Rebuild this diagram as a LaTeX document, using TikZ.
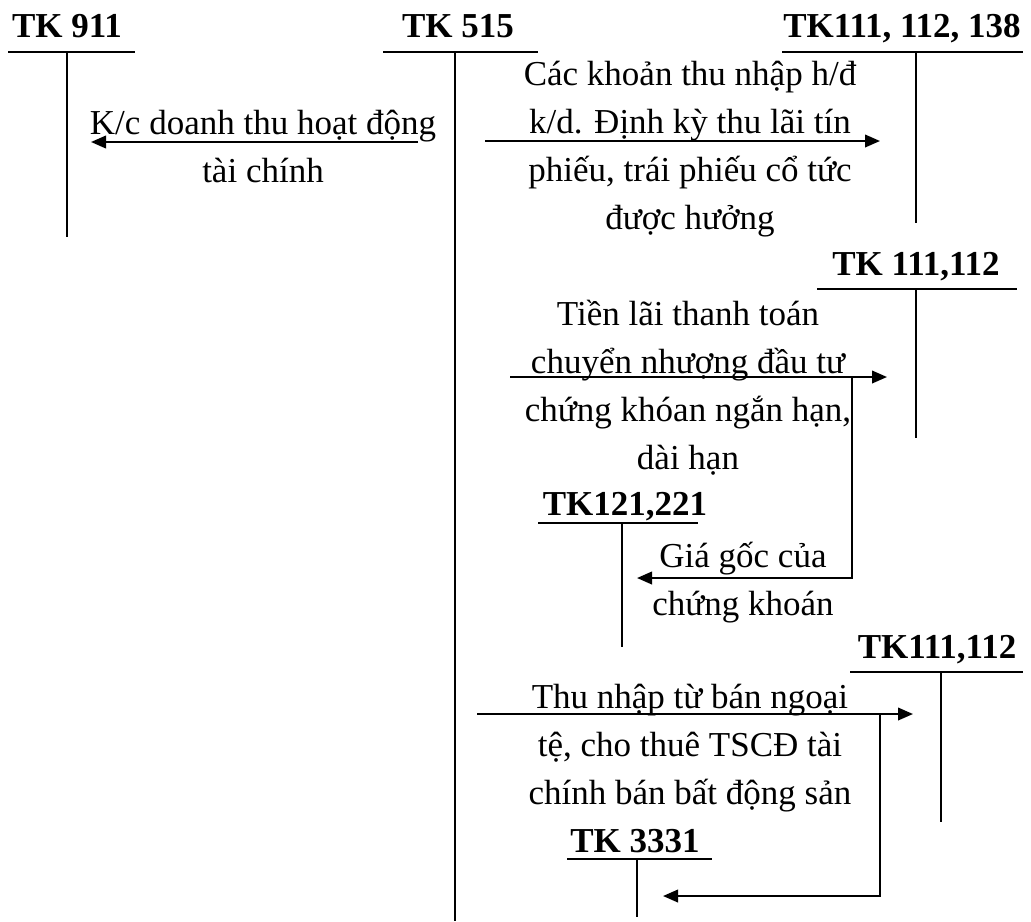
\documentclass[tikz,border=0pt]{standalone}
\usepackage{fontspec}
\setmainfont{Liberation Serif}
\usetikzlibrary{arrows.meta}

\begin{document}
\begin{tikzpicture}[x=0.4pt,y=-0.4pt,
  font=\fontsize{14}{19.2}\selectfont,
  acct/.style={anchor=base,inner sep=0pt,font=\fontsize{14}{19.2}\selectfont\bfseries},
  note/.style={anchor=base,inner sep=0pt,align=center},
  tline/.style={line width=0.7pt},
  flow/.style={line width=0.9pt,-{Triangle[length=6pt,width=5pt]}}]
\useasboundingbox (0,0) rectangle (1031,921);
% account titles
\node[acct] (t911) at (67,37) {TK 911};
\node[acct] (t515) at (458,37) {TK 515};
\node[acct] (t111a) at (902,37) {TK111, 112, 138};
\node[acct] (t111b) at (916,275) {TK 111,112};
\node[acct] (t121) at (625,515) {TK121,221};
\node[acct] (t111c) at (937,658) {TK111,112};
\node[acct] (t3331) at (635,852) {TK 3331};
% T shapes
\draw[tline] (8,52) -- (135,52) (67,52) -- (67,237);
\draw[tline] (383,52) -- (538,52) (455,52) -- (455,921);
\draw[tline] (782,52) -- (1023,52) (916,52) -- (916,223);
\draw[tline] (817,289) -- (1017,289) (916,289) -- (916,438);
\draw[tline] (538,523) -- (698,523) (622,523) -- (622,647);
\draw[tline] (850,672) -- (1023,672) (941,672) -- (941,822);
\draw[tline] (567,859) -- (712,859) (637,859) -- (637,917);
% entries (base = last line)
\node[note] (kc) at (263,182) {K/c doanh thu hoạt động\\tài chính};
\node[note] (thu) at (690,229) {Các khoản thu nhập h/đ\\k/d. Định kỳ thu lãi tín\\phiếu, trái phiếu cổ tức\\được hưởng};
\node[note] (lai) at (688,469) {Tiền lãi thanh toán\\chuyển nhượng đầu tư\\chứng khóan ngắn hạn,\\dài hạn};
\node[note] (goc) at (743,615) {Giá gốc của\\chứng khoán};
\node[note] (ban) at (690,804) {Thu nhập từ bán ngoại\\tệ, cho thuê TSCĐ tài\\chính bán bất động sản};
% arrows
\coordinate (a1) at (418,142); \coordinate (a1e) at (91,142);
\coordinate (b1) at (485,141); \coordinate (b1e) at (880,141);
\coordinate (c1) at (510,377); \coordinate (c1e) at (887,377);
\coordinate (c2) at (852,377); \coordinate (c2e) at (637,578);
\coordinate (d1) at (477,714); \coordinate (d1e) at (913,714);
\coordinate (d2) at (880,714); \coordinate (d2e) at (663,896);
\draw[flow] (a1) -- (a1e);
\draw[flow] (b1) -- (b1e);
\draw[flow] (c1) -- (c1e);
\draw[flow] (c2) |- (c2e);
\draw[flow] (d1) -- (d1e);
\draw[flow] (d2) |- (d2e);
\end{tikzpicture}
\end{document}
